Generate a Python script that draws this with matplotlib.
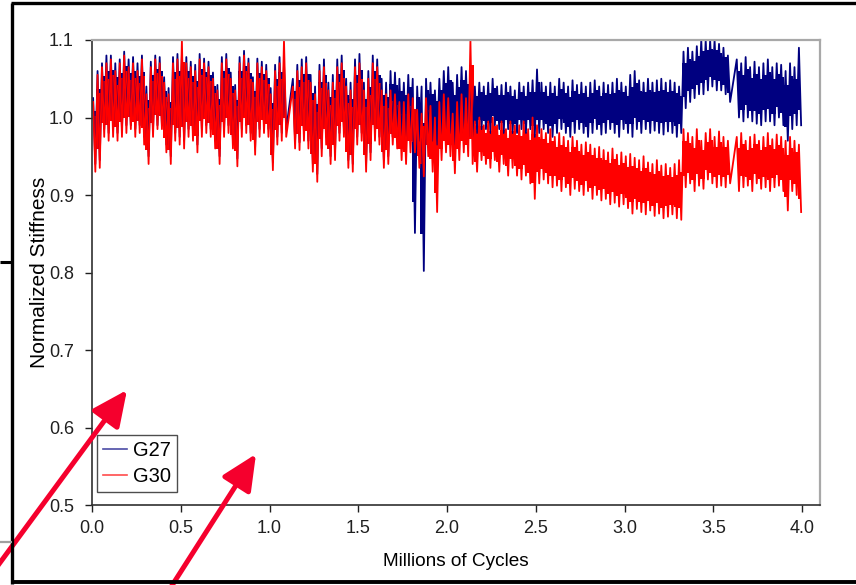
import numpy as np
import matplotlib
matplotlib.use('Agg')
import matplotlib.pyplot as plt
from matplotlib.lines import Line2D

plt.rcParams['font.family'] = ['Liberation Sans', 'DejaVu Sans']

nan = np.nan
# bin centres (millions of cycles); each bin stores the upper / lower envelope
cycles = np.round(0.0125 + 0.025 * np.arange(160), 4)

g30_hi = [1.02, 1.055, 1.065, 1.07, 1.075, 1.06, 1.07, 1.08, 1.065, 1.07,
          1.06, 1.075, 1.03, 1.065, 1.075, 1.07, 1.045, 1.03, 1.07, 1.075,
          1.1, 1.07, 1.065, 1.06, 1.075, 1.07, 1.065, 1.05, 1.035, 1.07,
          1.075, 1.05, 1.035, 1.07, 1.08, 1.07, 1.045, 1.07, 1.065, 1.06,
          1.03, 1.06, 1.07, 1.1, nan, 1.04, 1.06, 1.065, 1.07, 1.045,
          1.03, 1.06, 1.065, 1.035, 1.045, 1.065, 1.07, 1.04, 1.035, 1.065,
          1.07, 1.035, 1.05, 1.07, 1.065, 1.035, 1.03, 1.035, 1.03, 1.02,
          1.02, 1.03, 1.025, 1.01, 1.005, 1.025, 1.015, 1.0, 1.02, 1.03,
          1.025, 1.005, 1.02, 1.03, 1.025, 1.1, 0.995, 1.0, 0.99, 0.995,
          1.0, 0.99, 0.995, 0.985, 0.995, 0.99, 0.99, 0.995, 0.985, 1.0,
          0.99, 0.985, 0.98, 0.985, 0.975, 0.98, 0.975, 0.97, 0.975, 0.97,
          0.965, 0.968, 0.965, 0.96, 0.962, 0.958, 0.955, 0.96, 0.952, 0.955,
          0.95, 0.953, 0.948, 0.945, 0.95, 0.942, 0.94, 0.945, 0.938, 0.94,
          0.935, 0.94, 0.945, 0.985, 0.98, 0.975, 0.985, 0.97, 0.98, 0.985,
          0.975, 0.982, 0.975, 0.97, nan, 0.975, 0.98, 0.97, 0.975, 0.978,
          0.97, 0.975, 0.98, 0.972, 0.978, 0.975, 0.97, 0.975, 0.97, 0.965]

g30_lo = [0.93, 0.935, 0.975, 0.97, 0.975, 0.97, 0.975, 0.98, 0.985, 0.975,
          0.98, 0.965, 0.94, 0.975, 0.985, 0.985, 0.955, 0.94, 0.97, 0.965,
          0.96, 0.975, 0.97, 0.955, 0.975, 0.98, 0.975, 0.96, 0.94, 0.975,
          0.98, 0.96, 0.937, 0.975, 0.98, 0.97, 0.952, 0.975, 0.98, 0.975,
          0.932, 0.965, 0.97, 0.975, nan, 0.96, 0.958, 0.97, 0.96, 0.93,
          0.917, 0.95, 0.965, 0.94, 0.945, 0.97, 0.975, 0.935, 0.93, 0.965,
          0.97, 0.93, 0.945, 0.97, 0.965, 0.935, 0.94, 0.965, 0.96, 0.945,
          0.94, 0.955, 0.955, 0.935, 0.924, 0.95, 0.93, 0.878, 0.945, 0.955,
          0.95, 0.928, 0.945, 0.955, 0.95, 0.94, 0.93, 0.945, 0.94, 0.935,
          0.945, 0.93, 0.94, 0.925, 0.935, 0.925, 0.92, 0.925, 0.915, 0.895,
          0.915, 0.92, 0.915, 0.91, 0.912, 0.905, 0.91, 0.9, 0.908, 0.905,
          0.9, 0.905, 0.895, 0.9, 0.893, 0.895, 0.888, 0.89, 0.885, 0.888,
          0.883, 0.876, 0.882, 0.878, 0.875, 0.88, 0.873, 0.876, 0.87, 0.872,
          0.875, 0.87, 0.868, 0.91, 0.915, 0.905, 0.912, 0.908, 0.92, 0.915,
          0.91, 0.912, 0.91, 0.915, nan, 0.905, 0.91, 0.912, 0.905, 0.915,
          0.908, 0.91, 0.905, 0.91, 0.912, 0.905, 0.88, 0.905, 0.9, 0.878]

g27_hi = [1.025, 1.06, 1.07, 1.08, 1.08, 1.07, 1.075, 1.085, 1.075, 1.078,
          1.07, 1.08, 1.04, 1.072, 1.08, 1.078, 1.052, 1.038, 1.078, 1.082,
          1.08, 1.078, 1.072, 1.068, 1.082, 1.076, 1.072, 1.058, 1.042, 1.078,
          1.082, 1.058, 1.042, 1.078, 1.086, 1.076, 1.052, 1.076, 1.072, 1.068,
          1.038, 1.068, 1.078, 1.07, nan, 1.05, 1.068, 1.075, 1.078, 1.055,
          1.04, 1.068, 1.075, 1.045, 1.055, 1.075, 1.08, 1.05, 1.045, 1.075,
          1.082, 1.045, 1.06, 1.08, 1.075, 1.05, 1.045, 1.06, 1.058, 1.05,
          1.045, 1.055, 1.05, 1.04, 1.04, 1.05, 1.045, 1.035, 1.05, 1.06,
          1.065, 1.045, 1.055, 1.065, 1.06, 1.05, 1.04, 1.045, 1.04, 1.045,
          1.05, 1.04, 1.042, 1.045, 1.04, 1.035, 1.045, 1.04, 1.045, 1.048,
          1.062, 1.045, 1.04, 1.045, 1.04, 1.05, 1.045, 1.04, 1.048, 1.042,
          1.045, 1.04, 1.045, 1.048, 1.04, 1.045, 1.042, 1.045, 1.05, 1.045,
          1.04, 1.055, 1.06, 1.048, 1.045, 1.05, 1.045, 1.048, 1.05, 1.045,
          1.048, 1.045, 1.04, 1.085, 1.09, 1.085, 1.092, 1.1, 1.1, 1.1,
          1.1, 1.095, 1.09, 1.08, nan, 1.075, 1.07, 1.078, 1.065, 1.072,
          1.065, 1.07, 1.075, 1.065, 1.07, 1.068, 1.06, 1.07, 1.065, 1.09]

g27_lo = [0.94, 0.945, 0.985, 0.98, 0.985, 0.98, 0.985, 0.99, 0.99, 0.985,
          0.99, 0.975, 0.95, 0.985, 0.99, 0.99, 0.965, 0.95, 0.98, 0.975,
          0.97, 0.985, 0.98, 0.965, 0.985, 0.99, 0.985, 0.97, 0.95, 0.985,
          0.99, 0.97, 0.947, 0.985, 0.99, 0.98, 0.962, 0.985, 0.99, 0.985,
          0.942, 0.975, 0.98, 0.985, nan, 0.97, 0.968, 0.98, 0.97, 0.94,
          0.927, 0.96, 0.975, 0.95, 0.955, 0.98, 0.985, 0.945, 0.94, 0.975,
          0.98, 0.94, 0.955, 0.98, 0.975, 0.945, 0.95, 0.975, 0.975, 0.97,
          0.965, 0.975, 0.851, 0.97, 0.802, 0.975, 0.97, 0.965, 0.975, 0.98,
          0.98, 0.965, 0.975, 0.98, 0.975, 0.975, 0.98, 0.985, 0.985, 0.98,
          0.99, 0.985, 0.98, 0.985, 0.98, 0.98, 0.985, 0.98, 0.985, 0.975,
          0.98, 0.985, 0.98, 0.975, 0.98, 0.985, 0.98, 0.975, 0.98, 0.985,
          0.98, 0.975, 0.98, 0.985, 0.978, 0.98, 0.985, 0.98, 0.975, 0.985,
          0.98, 0.975, 0.985, 0.98, 0.985, 0.98, 0.983, 0.98, 0.978, 0.982,
          0.98, 0.975, 0.98, 1.012, 1.02, 1.025, 1.03, 1.03, 1.035, 1.04,
          1.035, 1.035, 1.03, 1.02, nan, 1.0, 0.995, 1.0, 0.995, 0.992,
          0.99, 0.995, 0.995, 0.99, 1.0, 0.99, 0.97, 0.985, 0.99, 0.99]

x_ticks = [0.0, 0.5, 1.0, 1.5, 2.0, 2.5, 3.0, 3.5, 4.0]
y_ticks = [0.5, 0.6, 0.7, 0.8, 0.9, 1.0, 1.1]
series_names = ['G27', 'G30']
series_colors = ['#000080', '#FF0000']


def zigzag(hi, lo):
    xs, ys = [], []
    for c, h, l in zip(cycles, hi, lo):
        if np.isnan(h):
            continue
        xs += [c - 0.00625, c + 0.00625]
        ys += [h, l]
    return xs, ys


W, H = 856, 585
fig = plt.figure(figsize=(W / 100, H / 100), dpi=100)
fig.patch.set_facecolor('white')
ax = fig.add_axes([92 / W, (H - 505) / H, (820 - 92) / W, (505 - 40) / H])

for (hi, lo), name, col in zip([(g27_hi, g27_lo), (g30_hi, g30_lo)], series_names, series_colors):
    hi_a = np.array(hi, dtype=float)
    lo_a = np.array(lo, dtype=float)
    # solid core of the dense noisy band, spiky edges drawn by the trace below
    core_hi = hi_a - 0.2 * (hi_a - lo_a)
    core_lo = lo_a + 0.2 * (hi_a - lo_a)
    ax.fill_between(cycles, core_lo, core_hi, step='mid', color=col, lw=0)
    xs, ys = zigzag(hi, lo)
    ax.plot(xs, ys, color=col, lw=1.3, label=name)

ax.set_xlim(0, 4.1)
ax.set_ylim(0.5, 1.1)
ax.set_xticks(x_ticks)
ax.set_yticks(y_ticks)
ax.set_xticklabels([f'{v:.1f}' for v in x_ticks])
ax.set_yticklabels([f'{v:.1f}' for v in y_ticks])
ax.tick_params(direction='out', length=5, width=1.0, colors='#202020', labelsize=13, pad=8)
ax.tick_params(axis='x', pad=6)
for s in ['left', 'bottom']:
    ax.spines[s].set_color('#303030')
    ax.spines[s].set_linewidth(1.2)
for s in ['top', 'right']:
    ax.spines[s].set_color('#a8a8a8')
    ax.spines[s].set_linewidth(1.6)

ax.set_xlabel('Millions of Cycles', fontsize=13.7, labelpad=11)
ax.set_ylabel('Normalized Stiffness', fontsize=15, labelpad=0)

handles = [Line2D([0], [0], color=c, lw=1.2, alpha=0.7) for c in series_colors]
leg = ax.legend(handles, series_names, loc='lower left', bbox_to_anchor=(0.007, 0.028),
                borderaxespad=0, fontsize=14.5, frameon=True, fancybox=False,
                edgecolor='#202020', handlelength=1.2, handletextpad=0.3,
                borderpad=0.3, labelspacing=0.35)
leg.get_frame().set_linewidth(1.0)


def fl(x0, y0, x1, y1, lw, color):
    fig.add_artist(Line2D([x0 / W, x1 / W], [1 - y0 / H, 1 - y1 / H],
                          transform=fig.transFigure, lw=lw, color=color,
                          solid_capstyle='butt'))


# surrounding frame of the slide
fl(12, 3, 12, 584, 2.4, 'black')
fl(11, 3, 860, 3, 2.4, 'black')
fl(11, 582, 860, 582, 2.8, 'black')
fl(0, 262, 12, 262, 2.2, 'black')
fl(0, 542, 12, 542, 1.6, '#a0a0a0')

# red annotation arrows
arrow_col = '#F5002D'
for tail, tip in [((-12, 579), (127, 390)), ((164, 598), (256, 454))]:
    fig.add_artist(matplotlib.patches.FancyArrowPatch(
        (tail[0], H - tail[1]), (tip[0], H - tip[1]), transform=None,
        arrowstyle='-|>,head_length=0.6,head_width=0.28', mutation_scale=36,
        lw=3.6, color=arrow_col, shrinkA=0, shrinkB=0))

fig.savefig('out.png', dpi=100)
